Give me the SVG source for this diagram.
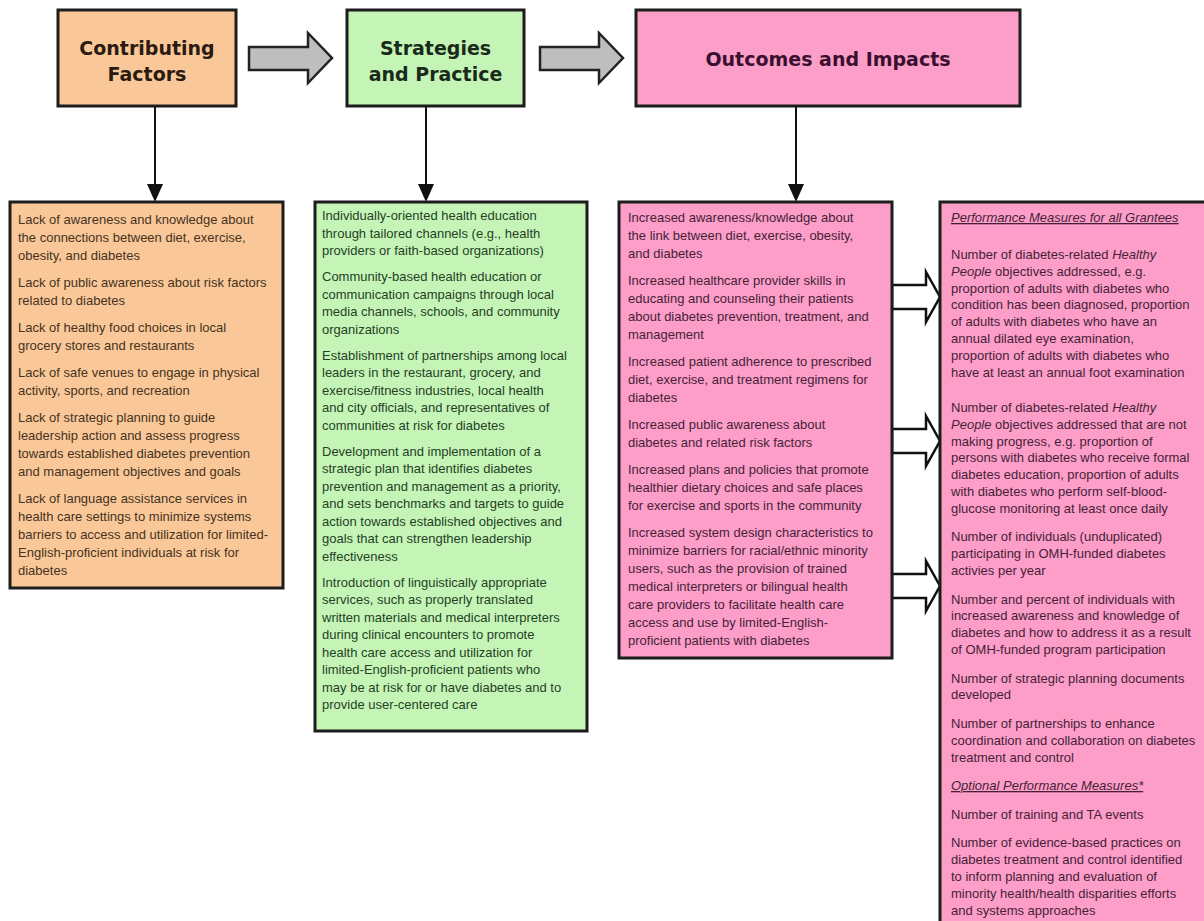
<svg xmlns="http://www.w3.org/2000/svg" width="1204" height="921" viewBox="0 0 1204 921">
<defs>
<style>
.box{stroke:#1c1c1c;stroke-width:3}
.or{fill:#FAC898}
.gr{fill:#C4F5B6}
.pk{fill:#FC9EC8}
.hd{font-family:"DejaVu Sans","Liberation Sans",sans-serif;font-weight:bold;font-size:19px;text-anchor:middle}
.tx{font-family:"Liberation Sans",Arial,sans-serif;font-size:13px}
.to{fill:#45331f}
.tg{fill:#263f26}
.tp{fill:#461e38}
.it{font-style:italic}
.ul{font-style:italic;text-decoration:underline}
.gray{fill:#BEBEBE;stroke:#222;stroke-width:2.5;stroke-linejoin:miter}
.wht{fill:#fff;stroke:#111;stroke-width:2.5;stroke-linejoin:miter}
.ln{stroke:#111;stroke-width:2;fill:none}
</style>
</defs>
<rect width="1204" height="921" fill="#fff"/>

<g id="connectors">
<polygon class="gray" points="249,47 308,47 308,33 332,58 308,83 308,70 249,70"/>
<polygon class="gray" points="540,47 599,47 599,33 623,58 599,83 599,70 540,70"/>
<line class="ln" x1="155" y1="106" x2="155" y2="186"/>
<polygon points="147,184 163,184 155,202" fill="#111"/>
<line class="ln" x1="426" y1="106" x2="426" y2="186"/>
<polygon points="418,184 434,184 426,202" fill="#111"/>
<line class="ln" x1="796" y1="106" x2="796" y2="186"/>
<polygon points="788,184 804,184 796,202" fill="#111"/>
<polygon class="wht" points="892,285 926,285 926,272 940,297 926,322 926,309 892,309"/>
<polygon class="wht" points="892,429 926,429 926,416 940,441 926,466 926,453 892,453"/>
<polygon class="wht" points="892,574 926,574 926,561 940,586 926,611 926,598 892,598"/>
</g>

<g id="hdr-contributing">
<rect class="box or" x="58" y="10" width="178" height="96"/>
<text class="hd" fill="#2b1a12" x="147" y="55">Contributing</text>
<text class="hd" fill="#2b1a12" x="147" y="81">Factors</text>
</g>

<g id="hdr-strategies">
<rect class="box gr" x="347" y="10" width="177" height="96"/>
<text class="hd" fill="#1a2a1a" x="435.5" y="55">Strategies</text>
<text class="hd" fill="#1a2a1a" x="435.5" y="81">and Practice</text>
</g>

<g id="hdr-outcomes">
<rect class="box pk" x="636" y="10" width="384" height="96"/>
<text class="hd" fill="#3a1030" x="828" y="66">Outcomes and Impacts</text>
</g>

<g id="factors">
<rect class="box or" x="10" y="202" width="273" height="386"/>
<g class="tx to">
<text x="18" y="224">Lack of awareness and knowledge about</text>
<text x="18" y="242">the connections between diet, exercise,</text>
<text x="18" y="260">obesity, and diabetes</text>
<text x="18" y="287">Lack of public awareness about risk factors</text>
<text x="18" y="305">related to diabetes</text>
<text x="18" y="332">Lack of healthy food choices in local</text>
<text x="18" y="350">grocery stores and restaurants</text>
<text x="18" y="377">Lack of safe venues to engage in physical</text>
<text x="18" y="395">activity, sports, and recreation</text>
<text x="18" y="422">Lack of strategic planning to guide</text>
<text x="18" y="440">leadership action and assess progress</text>
<text x="18" y="458">towards established diabetes prevention</text>
<text x="18" y="476">and management objectives and goals</text>
<text x="18" y="503">Lack of language assistance services in</text>
<text x="18" y="521">health care settings to minimize systems</text>
<text x="18" y="539">barriers to access and utilization for limited-</text>
<text x="18" y="557">English-proficient individuals at risk for</text>
<text x="18" y="575">diabetes</text>
</g>
</g>

<g id="strategies">
<rect class="box gr" x="315" y="202" width="272" height="529"/>
<g class="tx tg">
<text x="322" y="220">Individually-oriented health education</text>
<text x="322" y="237.5">through tailored channels (e.g., health</text>
<text x="322" y="255">providers or faith-based organizations)</text>
<text x="322" y="281">Community-based health education or</text>
<text x="322" y="298.5">communication campaigns through local</text>
<text x="322" y="316">media channels, schools, and community</text>
<text x="322" y="333.5">organizations</text>
<text x="322" y="359.5">Establishment of partnerships among local</text>
<text x="322" y="377">leaders in the restaurant, grocery, and</text>
<text x="322" y="394.5">exercise/fitness industries, local health</text>
<text x="322" y="412">and city officials, and representatives of</text>
<text x="322" y="429.5">communities at risk for diabetes</text>
<text x="322" y="455.5">Development and implementation of a</text>
<text x="322" y="473">strategic plan that identifies diabetes</text>
<text x="322" y="490.5">prevention and management as a priority,</text>
<text x="322" y="508">and sets benchmarks and targets to guide</text>
<text x="322" y="525.5">action towards established objectives and</text>
<text x="322" y="543">goals that can strengthen leadership</text>
<text x="322" y="560.5">effectiveness</text>
<text x="322" y="586.5">Introduction of linguistically appropriate</text>
<text x="322" y="604">services, such as properly translated</text>
<text x="322" y="621.5">written materials and medical interpreters</text>
<text x="322" y="639">during clinical encounters to promote</text>
<text x="322" y="656.5">health care access and utilization for</text>
<text x="322" y="674">limited-English-proficient patients who</text>
<text x="322" y="691.5">may be at risk for or have diabetes and to</text>
<text x="322" y="709">provide user-centered care</text>
</g>
</g>

<g id="outcomes">
<rect class="box pk" x="619" y="202" width="273" height="456"/>
<g class="tx tp">
<text x="628" y="222">Increased awareness/knowledge about</text>
<text x="628" y="240">the link between diet, exercise, obesity,</text>
<text x="628" y="258">and diabetes</text>
<text x="628" y="285">Increased healthcare provider skills in</text>
<text x="628" y="303">educating and counseling their patients</text>
<text x="628" y="321">about diabetes prevention, treatment, and</text>
<text x="628" y="339">management</text>
<text x="628" y="366">Increased patient adherence to prescribed</text>
<text x="628" y="384">diet, exercise, and treatment regimens for</text>
<text x="628" y="402">diabetes</text>
<text x="628" y="429">Increased public awareness about</text>
<text x="628" y="447">diabetes and related risk factors</text>
<text x="628" y="474">Increased plans and policies that promote</text>
<text x="628" y="492">healthier dietary choices and safe places</text>
<text x="628" y="510">for exercise and sports in the community</text>
<text x="628" y="537">Increased system design characteristics to</text>
<text x="628" y="555">minimize barriers for racial/ethnic minority</text>
<text x="628" y="573">users, such as the provision of trained</text>
<text x="628" y="591">medical interpreters or bilingual health</text>
<text x="628" y="609">care providers to facilitate health care</text>
<text x="628" y="627">access and use by limited-English-</text>
<text x="628" y="645">proficient patients with diabetes</text>
</g>
</g>

<g id="measures">
<rect class="box pk" x="940" y="202" width="290" height="740"/>
<g class="tx tp">
<text x="951" y="222" class="ul">Performance Measures for all Grantees</text>
<text x="951" y="259">Number of diabetes-related <tspan class="it">Healthy</tspan></text>
<text x="951" y="276"><tspan class="it">People</tspan> objectives addressed, e.g.</text>
<text x="951" y="293">proportion of adults with diabetes who</text>
<text x="951" y="309">condition has been diagnosed, proportion</text>
<text x="951" y="326">of adults with diabetes who have an</text>
<text x="951" y="343">annual dilated eye examination,</text>
<text x="951" y="360">proportion of adults with diabetes who</text>
<text x="951" y="377">have at least an annual foot examination</text>
<text x="951" y="412">Number of diabetes-related <tspan class="it">Healthy</tspan></text>
<text x="951" y="429"><tspan class="it">People</tspan> objectives addressed that are not</text>
<text x="951" y="446">making progress, e.g. proportion of</text>
<text x="951" y="462">persons with diabetes who receive formal</text>
<text x="951" y="479">diabetes education, proportion of adults</text>
<text x="951" y="496">with diabetes who perform self-blood-</text>
<text x="951" y="513">glucose monitoring at least once daily</text>
<text x="951" y="541">Number of individuals (unduplicated)</text>
<text x="951" y="558">participating in OMH-funded diabetes</text>
<text x="951" y="575">activies per year</text>
<text x="951" y="604">Number and percent of individuals with</text>
<text x="951" y="620">increased awareness and knowledge of</text>
<text x="951" y="637">diabetes and how to address it as a result</text>
<text x="951" y="654">of OMH-funded program participation</text>
<text x="951" y="683">Number of strategic planning documents</text>
<text x="951" y="699">developed</text>
<text x="951" y="728">Number of partnerships to enhance</text>
<text x="951" y="745">coordination and collaboration on diabetes</text>
<text x="951" y="762">treatment and control</text>
<text x="951" y="790" class="ul">Optional Performance Measures*</text>
<text x="951" y="819">Number of training and TA events</text>
<text x="951" y="847">Number of evidence-based practices on</text>
<text x="951" y="864">diabetes treatment and control identified</text>
<text x="951" y="881">to inform planning and evaluation of</text>
<text x="951" y="898">minority health/health disparities efforts</text>
<text x="951" y="915">and systems approaches</text>
</g>
</g>
</svg>
